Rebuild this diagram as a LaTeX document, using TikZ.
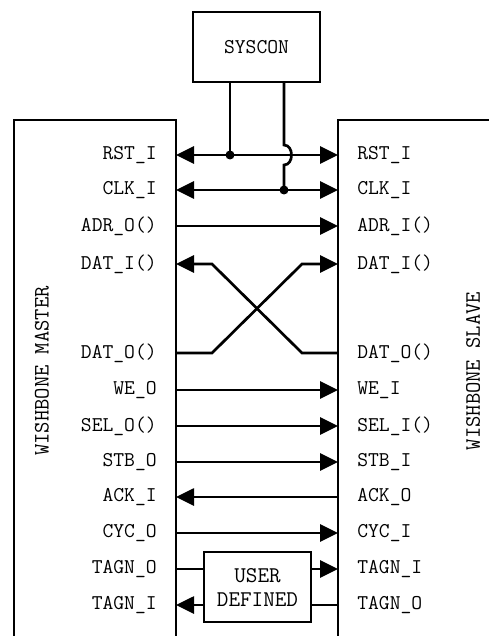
\documentclass[tikz,border=0pt]{standalone}
\usepackage{fontspec}
\usetikzlibrary{arrows.meta}

\begin{document}
\begin{tikzpicture}[x=1pt, y=-1pt, line width=2.7pt,
    pin/.style={font=\ttfamily\fontsize{21}{21}\selectfont, inner sep=0pt},
    blk/.style={draw, inner sep=0pt, outer sep=0pt},
    sig/.style={-{Triangle[length=18pt,width=17pt]}},
    bidir/.style={{Triangle[length=18pt,width=17pt]}-{Triangle[length=18pt,width=17pt]}}]
    \useasboundingbox (0,0) rectangle (489,636);
    \clip (0,0) rectangle (489,636);

    % blocks
    \node[blk, minimum width=127pt, minimum height=70pt, pin] (syscon) at (256.5,47) {SYSCON};
    \node[blk, minimum width=162pt, minimum height=540pt] (master) at (95,390) {};
    \node[blk, minimum width=182pt, minimum height=540pt] (slave) at (429,390) {};
    \node[pin, rotate=90, font=\ttfamily\fontsize{22}{22}\selectfont] (mname) at (42,371) {WISHBONE MASTER};
    \node[pin, rotate=90, font=\ttfamily\fontsize{22}{22}\selectfont] (sname) at (473,371) {WISHBONE SLAVE};
    \node[blk, minimum width=107pt, minimum height=70pt, pin, align=center,
          font=\ttfamily\fontsize{22.5}{24}\selectfont] (user) at (257.5,587) {USER\\DEFINED};

    % pins on both sides
    \foreach \y/\ml/\sl [count=\i] in {155/RST\_I/RST\_I, 190/CLK\_I/CLK\_I,
        226/ADR\_O()/ADR\_I(), 264/DAT\_I()/DAT\_I(), 353/DAT\_O()/DAT\_O(),
        390/WE\_O/WE\_I, 426/SEL\_O()/SEL\_I(), 462/STB\_O/STB\_I,
        497/ACK\_I/ACK\_O, 533/CYC\_O/CYC\_I, 569/TAGN\_O/TAGN\_I, 605/TAGN\_I/TAGN\_O} {
        \node[pin, anchor=east] (ml\i) at (158,\y) {\ml};
        \node[pin, anchor=west] (sl\i) at (356,\y) {\sl};
        \coordinate (m\i) at (176,\y);
        \coordinate (s\i) at (338,\y);
    }

    % syscon taps
    \coordinate (j1) at (230,155);
    \coordinate (j2) at (284,190);
    \draw[bidir] (m1) -- (s1);
    \draw[bidir] (m2) -- (s2);
    \draw (j1 |- syscon.south) -- (j1);
    \draw (j2 |- syscon.south) -- (284,145) .. controls (294,145) and (294,165) .. (284,165) -- (j2);
    \fill (j1) circle (4.5pt);
    \fill (j2) circle (4.5pt);

    % data and control signals
    \draw[sig] (m3) -- (s3);
    \draw[sig] (m5) -- ([xshift=36pt]m5) -- ([xshift=-36pt]s4) -- (s4);
    \draw[sig] (s5) -- ([xshift=-36pt]s5) -- ([xshift=36pt]m4) -- (m4);
    \draw[sig] (m6) -- (s6);
    \draw[sig] (m7) -- (s7);
    \draw[sig] (m8) -- (s8);
    \draw[sig] (s9) -- (m9);
    \draw[sig] (m10) -- (s10);

    % tags through the user block
    \draw (m11) -- (user.west |- m11);
    \draw[sig] (user.east |- m11) -- (s11);
    \draw (s12) -- (user.east |- s12);
    \draw[sig] (user.west |- s12) -- (m12);
\end{tikzpicture}
\end{document}
